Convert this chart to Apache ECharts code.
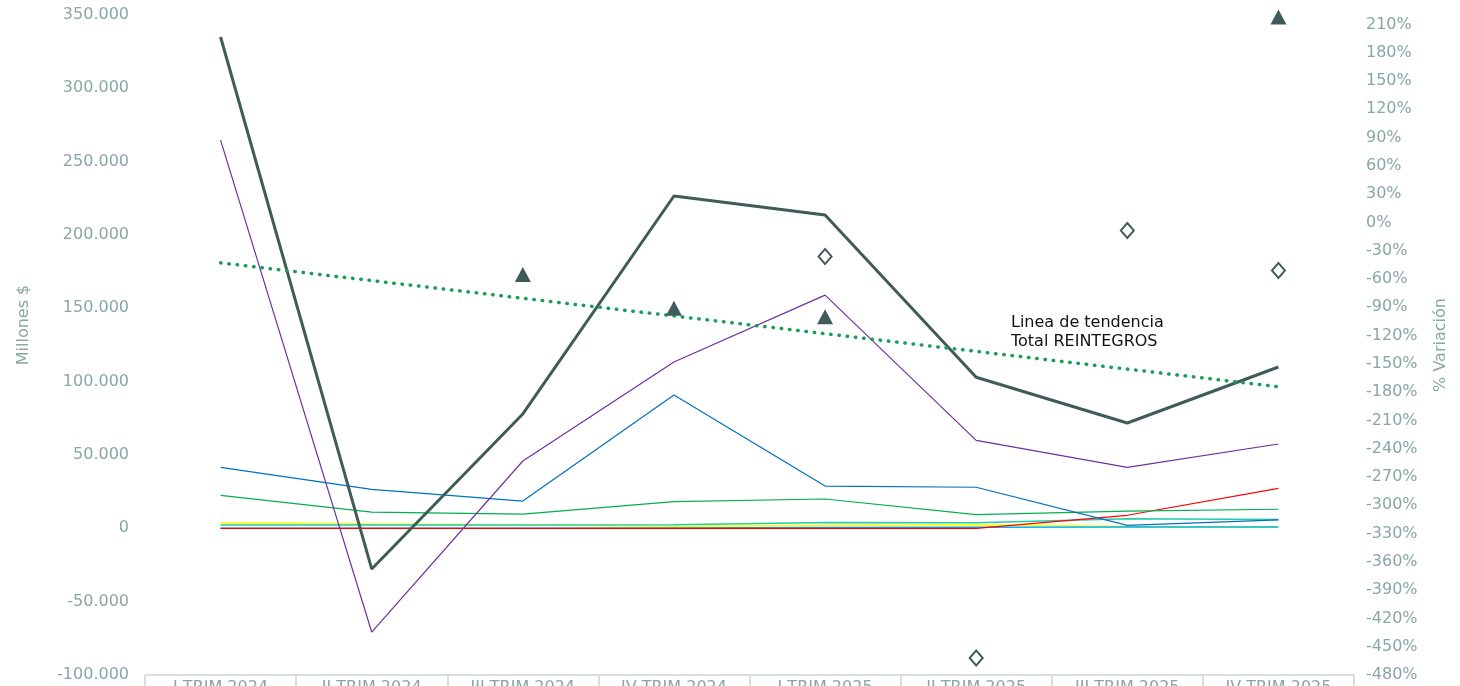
<!DOCTYPE html>
<html>
<head>
<meta charset="utf-8">
<script src="https://cdn.jsdelivr.net/npm/echarts@6/dist/echarts.min.js"></script>
<style>
html,body{margin:0;padding:0;background:#fff;}
#chart{width:1460px;height:686px;}
</style>
</head>
<body>
<div id="chart"></div>
<script>
// ---- data ----
var categories = ['I TRIM 2024','II TRIM 2024','III TRIM 2024','IV TRIM 2024','I TRIM 2025','II TRIM 2025','III TRIM 2025','IV TRIM 2025'];
var totalReintegros = [335000, -27700, 78000, 226600, 213600, 103000, 71800, 110000];
var seriePurpura   = [264700, -70700, 45900, 113400, 159000, 60000, 41600, 57500];
var serieAzul      = [41600, 26600, 18600, 90900, 28800, 28000, 2000, 5800];
var serieVerde     = [22500, 11100, 9700, 18200, 20000, 9300, 11800, 13000];
var serieRoja      = [0, 0, 0, 0, 0, 0, 8900, 27300];
var serieAmarilla  = [3800, 3000, 2200, 1500, 2000, 2500, 1200, 900];
var serieTurquesa  = [2200, 2200, 2300, 2500, 4000, 3800, 6500, 6100];
var serieCeleste   = [0, 0, 0, 300, 500, 800, 900, 900];
var tendencia      = [181000, null, null, null, null, null, null, 96500];
var variacionTriangulo = ['-', '-', -55.3, -91, -100, '-', '-', 217.8];
var variacionRombo     = ['-', '-', '-', '-', -36.1, -462, -8.5, -51];
var leftTicks = {min: -100000, max: 350000, interval: 50000};
var rightTicks = {min: -480, max: 220, interval: 30};

var axisColor = '#88a7a4';
var dark = '#405c59';
var font = 'DejaVu Sans';

function fmtMiles(v){
  var s = Math.abs(v).toFixed(0).replace(/\B(?=(\d{3})+(?!\d))/g, '.');
  return (v < 0 ? '-' : '') + s;
}
function line(name, data, color, width, z){
  return {name: name, type: 'line', data: data, showSymbol: false, symbol: 'none',
    lineStyle: {color: color, width: width}, itemStyle: {color: color}, z: z || 2, animation: false};
}

var chart = echarts.init(document.getElementById('chart'));
chart.setOption({
  animation: false,
  textStyle: {fontFamily: font},
  grid: {left: 145, right: 106, top: 15, bottom: 11, containLabel: false, outerBoundsMode: 'none'},
  xAxis: {
    type: 'category', data: categories, boundaryGap: true,
    axisLine: {show: true, onZero: false, lineStyle: {color: '#d9dfde', width: 2}},
    axisTick: {show: true, length: 16, lineStyle: {color: '#d9dfde', width: 2}},
    axisLabel: {color: axisColor, fontSize: 16, fontFamily: font, margin: 5},
    splitLine: {show: false}
  },
  yAxis: [{
    type: 'value', min: leftTicks.min, max: leftTicks.max, interval: leftTicks.interval,
    name: 'Millones $', nameLocation: 'middle', nameGap: 113,
    nameTextStyle: {color: axisColor, fontSize: 16, fontFamily: font, padding: [0, 0, 0, 40]},
    axisLine: {show: false}, axisTick: {show: false}, splitLine: {show: false},
    axisLabel: {color: axisColor, fontSize: 16, fontFamily: font, margin: 16, formatter: fmtMiles}
  }, {
    type: 'value', min: rightTicks.min, max: rightTicks.max, interval: rightTicks.interval,
    name: '% Variación', nameLocation: 'middle', nameGap: 79,
    nameTextStyle: {color: axisColor, fontSize: 16, fontFamily: font},
    axisLine: {show: false}, axisTick: {show: false}, splitLine: {show: false},
    axisLabel: {color: axisColor, fontSize: 16, fontFamily: font, margin: 12,
      formatter: function(v){ return ((v - rightTicks.min) % rightTicks.interval === 0) ? v + '%' : ''; }}
  }],
  series: [
    line('Amarilla', serieAmarilla, '#ffff00', 1.5, 2),
    line('Turquesa', serieTurquesa, '#22ccaa', 1.5, 2),
    line('Celeste', serieCeleste, '#00b0f0', 1.5, 2),
    line('Roja', serieRoja, '#ff0000', 1.2, 2),
    line('Verde', serieVerde, '#00b050', 1.2, 2),
    line('Azul', serieAzul, '#0070c0', 1.2, 2),
    line('Purpura', seriePurpura, '#7030a0', 1.2, 2),
    line('Total REINTEGROS', totalReintegros, dark, 3, 3),
    {name: 'Tendencia', type: 'line', data: tendencia, connectNulls: true, showSymbol: false, symbol: 'none',
     lineStyle: {color: '#1a9e57', width: 3.5, type: [0.5, 7.8], cap: 'round'}, z: 4},
    {name: 'Var. 1', type: 'scatter', yAxisIndex: 1, data: variacionTriangulo, symbol: 'triangle', symbolSize: [16, 15],
     itemStyle: {color: dark, opacity: 1}, z: 5},
    {name: 'Var. 2', type: 'scatter', yAxisIndex: 1, data: variacionRombo, symbol: 'diamond', symbolSize: [13, 15],
     itemStyle: {color: '#ffffff', borderColor: dark, borderWidth: 2, opacity: 1}, z: 5}
  ],
  graphic: [{
    type: 'text', left: 1011, top: 313,
    style: {text: 'Linea de tendencia\nTotal REINTEGROS', fill: '#111', fontSize: 16, fontFamily: font, lineHeight: 19}
  }]
});
</script>
</body>
</html>
